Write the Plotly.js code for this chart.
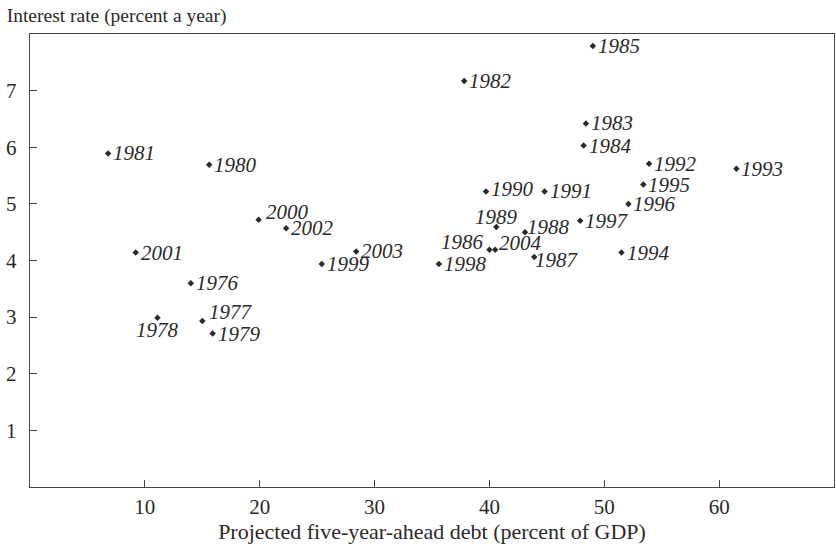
<!DOCTYPE html>
<html>
<head>
<meta charset="utf-8">
<script src="https://cdn.plot.ly/plotly-3.0.1.min.js"></script>
<style>html,body{margin:0;padding:0;background:#fff;}#chart{width:836px;height:549px;}</style>
</head>
<body>
<div id="chart"></div>
<script>
// Data
var years = ["1976","1977","1978","1979","1980","1981","1982","1983","1984","1985",
             "1986","1987","1988","1989","1990","1991","1992","1993","1994","1995",
             "1996","1997","1998","1999","2000","2001","2002","2003","2004"];
var debt  = [14.0, 15.0, 11.1, 15.9, 15.6, 6.8, 37.8, 48.4, 48.2, 49.0,
             40.0, 43.9, 43.1, 40.6, 39.7, 44.8, 53.9, 61.5, 51.5, 53.4,
             52.1, 47.9, 35.6, 25.4, 19.9, 9.2, 22.3, 28.4, 40.5];
var rate  = [3.60, 2.93, 2.99, 2.71, 5.69, 5.89, 7.17, 6.42, 6.03, 7.79,
             4.19, 4.06, 4.50, 4.59, 5.22, 5.22, 5.71, 5.62, 4.14, 5.34,
             5.00, 4.70, 3.94, 3.94, 4.72, 4.14, 4.57, 4.16, 4.19];
var xTicks = [10, 20, 30, 40, 50, 60];
var yTicks = [1, 2, 3, 4, 5, 6, 7];

// Label placement (style only): [xanchor, xshift px, yshift px]
var labelStyle = {
  "1978": ["center", 0, -12],
  "1989": ["center", 0, 10],
  "1986": ["right", -4, 8],
  "1977": ["left", 6, 9],
  "2000": ["left", 6, 8],
  "1988": ["left", 1, 5],
  "2004": ["left", 3, 7],
  "1987": ["left", 0, -3],
  "1990": ["left", 4, 2]
};

var ink = "#2a2a2a";
var serif = "Liberation Serif, Times New Roman, serif";

var trace = {
  type: "scatter",
  mode: "markers",
  x: debt,
  y: rate,
  cliponaxis: false,
  marker: {symbol: "diamond", size: 5, color: ink},
  hoverinfo: "skip"
};

var labels = years.map(function (yr, i) {
  var s = labelStyle[yr] || ["left", 4, 0];
  return {
    x: debt[i], y: rate[i], xref: "x", yref: "y",
    text: yr, showarrow: false,
    xanchor: s[0], yanchor: "middle", xshift: s[1], yshift: s[2],
    font: {family: serif, size: 21, color: ink, style: "italic"},
    borderpad: 0
  };
});

var axisCommon = {
  showline: true, mirror: true, linecolor: "#444", linewidth: 1.3,
  showgrid: false, zeroline: false,
  ticks: "inside", ticklen: 7, tickwidth: 1.2, tickcolor: "#444",
  tickfont: {family: serif, size: 21, color: ink},
  fixedrange: true
};

var layout = {
  width: 836, height: 549,
  margin: {l: 30, r: 2, t: 34, b: 62},
  paper_bgcolor: "#fff", plot_bgcolor: "#fff",
  showlegend: false,
  title: {
    text: "Interest rate (percent a year)",
    font: {family: serif, size: 19.5, color: ink},
    xref: "container", yref: "container",
    x: 0.008, xanchor: "left", y: 1 - 15 / 549, yanchor: "middle"
  },
  xaxis: Object.assign({}, axisCommon, {
    range: [0, 70], tickvals: xTicks, ticklabelstandoff: 0,
    title: {text: "Projected five-year-ahead debt (percent of GDP)",
            font: {family: serif, size: 22, color: ink}, standoff: 6}
  }),
  yaxis: Object.assign({}, axisCommon, {
    range: [0, 8], tickvals: yTicks, ticklabelstandoff: 8
  }),
  annotations: labels
};

Plotly.newPlot("chart", [trace], layout, {displayModeBar: false, staticPlot: true});
</script>
</body>
</html>
